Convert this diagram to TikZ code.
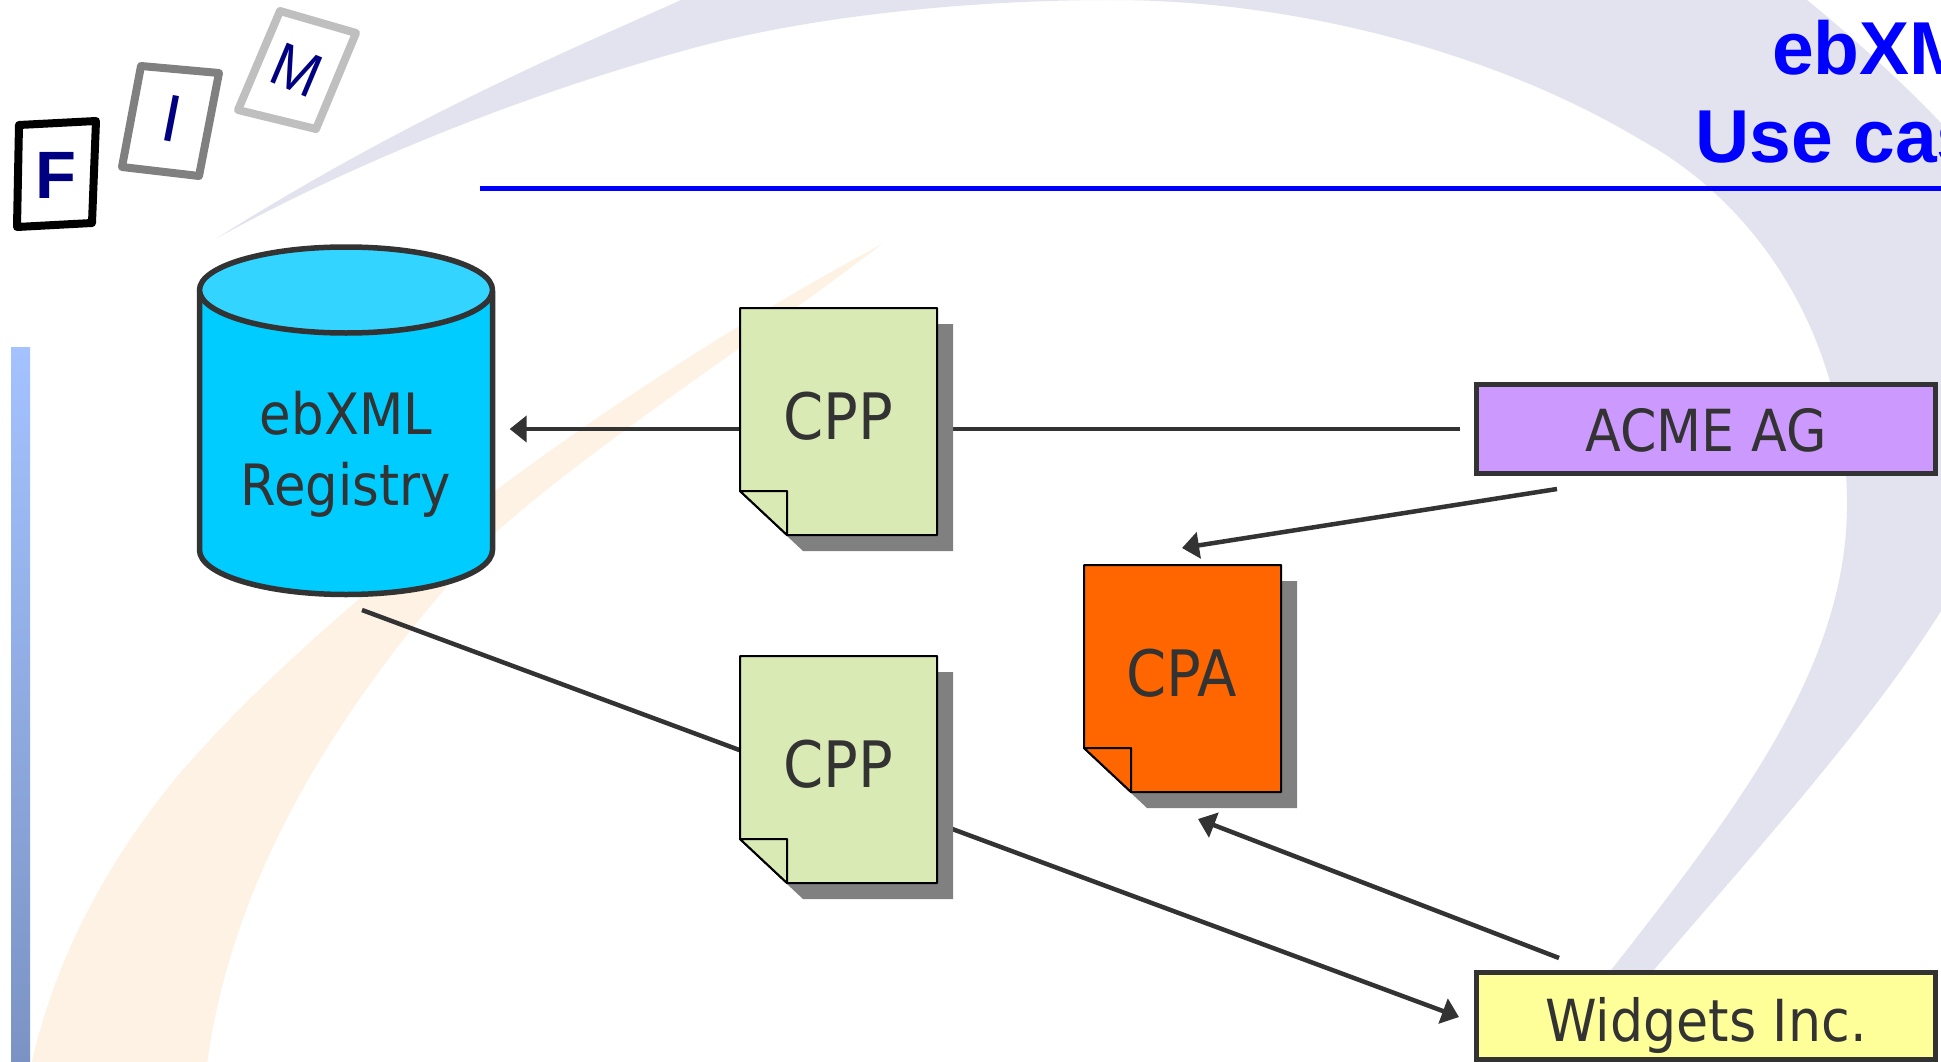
\documentclass[tikz,border=0pt]{standalone}
\usepackage{fontspec}
\usepackage{tikz}
\usetikzlibrary{arrows.meta}
\newfontfamily\boxfont[FakeStretch=0.9]{DejaVu Sans}
\newfontfamily\headfont{Liberation Sans}
\definecolor{swooshblue}{HTML}{E3E3EF}
\definecolor{swooshorange}{HTML}{FDF2E3}
\definecolor{inkgray}{HTML}{333333}
\definecolor{sheetgreen}{HTML}{DAEAB4}
\definecolor{sheetorange}{HTML}{FF6600}
\definecolor{sheetshadow}{HTML}{808080}
\definecolor{lettermarine}{HTML}{000080}
\definecolor{drumbody}{HTML}{00CCFF}
\definecolor{drumtop}{HTML}{33D4FF}
\definecolor{acmefill}{HTML}{CC99FF}
\definecolor{widgetsfill}{HTML}{FFFF99}
\definecolor{bartop}{HTML}{A4C2FF}
\definecolor{barbottom}{HTML}{7B93C4}
\tikzset{
  partybox/.style={rectangle, draw=inkgray, line width=5.5pt, minimum width=459pt, text=inkgray, inner sep=0pt, text depth=0pt, font=\boxfont\fontsize{58}{68}\selectfont},
  sheetlabel/.style={text=inkgray, inner sep=0pt, anchor=base, font=\boxfont\fontsize{64}{70}\selectfont},
  sheetline/.style={draw=black, line width=2pt, line join=round},
  drumline/.style={draw=inkgray, line width=5.5pt, line join=round},
  link/.style={draw=inkgray, line width=4.5pt},
  linkhead/.style={link, -{Triangle[length=17pt,width=26pt]}},
  headline/.style={text=blue, inner sep=0pt, anchor=base west, font=\headfont\bfseries\fontsize{75}{88}\selectfont},
  tileframe/.style={line width=8pt, line join=round, fill=white},
  tileletter/.style={text=lettermarine, inner sep=0pt, font=\headfont\fontsize{67}{70}\selectfont}
}

\begin{document}
\begin{tikzpicture}[x=1pt,y=-1pt]
  % Page
  \useasboundingbox (0,0) rectangle (1941,1062);
  \fill[white] (0,0) rectangle (1941,1062);

  % Swooshes
  \fill[swooshorange] (882,244) .. controls (620,385) and (340,590) .. (180,773) .. controls (100,870) and (50,970) .. (28,1080)
    -- (205,1080) .. controls (225,900) and (320,720) .. (495,533) .. controls (600,440) and (750,345) .. (882,244) -- cycle;
  \fill[swooshblue] (217,238) .. controls (350,165) and (520,95) .. (697,47) .. controls (830,12) and (990,0) .. (1112,0)
    .. controls (1300,0) and (1500,55) .. (1641,140) .. controls (1760,205) and (1847,340) .. (1847,504)
    .. controls (1847,680) and (1720,830) .. (1580,1010)
    -- (1620,1010) .. controls (1720,890) and (1860,740) .. (1941,611)
    -- (1980,611) -- (1980,123) -- (1941,123) .. controls (1900,80) and (1850,35) .. (1807,0) -- (1790,-15) -- (700,-10)
    -- (681,0) .. controls (600,37) and (420,110) .. (217,238) -- cycle;

  % Side bar and rule
  \shade[top color=bartop, bottom color=barbottom] (11,347) rectangle (30,1062);
  \draw[blue, line width=5pt] (480,188) -- (1941,188);

  % Title
  \node[headline] (titleup) at (1772,75) {ebXM};
  \node[headline] (titledown) at (1695,163) {Use cas};

  % Logo
  \draw[tileframe, draw=black] (19,125) -- (96,121) -- (92,223) -- (17,227) -- cycle;
  \draw[tileframe, draw=sheetshadow] (141,66) -- (219,73) -- (199,176) -- (122,167) -- cycle;
  \draw[tileframe, draw=black!25] (280,11) -- (356,33) -- (316,129) -- (238,110) -- cycle;
  \node[tileletter, font=\headfont\bfseries\fontsize{67}{70}\selectfont] (letterf) at (56,175) {F};
  \node[tileletter, rotate=-11] (letteri) at (172,119) {I};
  \node[tileletter, font=\headfont\fontsize{60}{70}\selectfont, shift={(297,70)}, cm={.88,-.37,.4,.95,(0,0)}, transform shape] (letterm) {M};

  % Registry
  \draw[drumline, fill=drumbody] (199.5,291) -- (199.5,550) arc[start angle=180, end angle=360, x radius=146.5pt, y radius=44.5pt] -- (492.5,291);
  \draw[drumline, fill=drumtop] (346,290) ellipse [x radius=146.5pt, y radius=43pt];
  \node[rectangle, minimum width=293pt, minimum height=347pt, inner sep=0pt] (registry) at (346,421) {};
  \node[sheetlabel, align=center, font=\boxfont\fontsize{57}{71}\selectfont] (registrytext) at (346,505) {ebXML\\Registry};

  % Parties
  \node[partybox, fill=acmefill, minimum height=89pt, text height=45pt] (acme) at (1706,429) {ACME AG};
  \node[partybox, fill=widgetsfill, minimum height=87pt, text height=51pt] (widgets) at (1706,1016) {Widgets Inc.};

  % Connectors
  \coordinate (acmeout) at (1557,489);
  \coordinate (widgetsout) at (1559,958);
  \coordinate (cpatop) at (1182,548);
  \coordinate (cpabottom) at (1198,819);
  \coordinate (registryout) at (362,610);
  \coordinate (widgetsin) at (1459,1017);
  \draw[linkhead, shorten <=14pt, shorten >=17pt] (acme.west) -- (acme.west -| registry.east);
  \draw[linkhead] (acmeout) -- (cpatop);
  \draw[linkhead] (widgetsout) -- (cpabottom);
  \draw[linkhead] (registryout) -- (widgetsin);

  % Sheets
  \foreach \sheetx/\sheety/\sheetfill in {740/308/sheetgreen, 740/656/sheetgreen, 1084/565/sheetorange} {
    \fill[sheetshadow] (\sheetx+16,\sheety+16) -- ++(197,0) -- ++(0,227) -- ++(-150,0) -- ++(-47,-44) -- cycle;
    \draw[sheetline, fill=\sheetfill] (\sheetx,\sheety) -- ++(197,0) -- ++(0,227) -- ++(-150,0) -- ++(-47,-44) -- cycle;
    \draw[sheetline, fill=\sheetfill] (\sheetx,\sheety+183) -- ++(47,0) -- ++(0,44) -- cycle;
  }
  \node[sheetlabel] (cppup) at (838,439) {CPP};
  \node[sheetlabel] (cppdown) at (838,787) {CPP};
  \node[sheetlabel] (cpa) at (1182,696) {CPA};
\end{tikzpicture}
\end{document}
